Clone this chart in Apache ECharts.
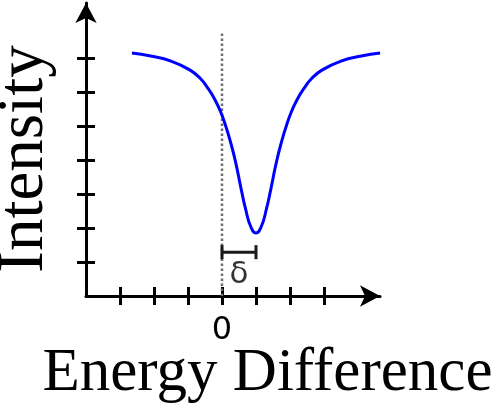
<!DOCTYPE html>
<html>
<head>
<meta charset="utf-8">
<style>
  html, body { margin: 0; padding: 0; background: #fff; }
  #chart { width: 496px; height: 405px; }
</style>
<script src="https://cdn.jsdelivr.net/npm/echarts@6/dist/echarts.min.js"></script>
</head>
<body>
<div id="chart"></div>
<script>
// Absorption dip: energy offset vs. transmitted intensity
const energy = [-2.65, -2.1, -1.5, -0.95, -0.65, -0.4, -0.2, -0.05, 0.1, 0.25, 0.4, 0.55, 0.7, 0.85,
                1.0,
                1.15, 1.3, 1.45, 1.6, 1.75, 1.9, 2.05, 2.2, 2.4, 2.65, 2.95, 3.5, 4.1, 4.65];
const intensity = [7.15, 7.06, 6.91, 6.65, 6.41, 6.09, 5.76, 5.44, 5.03, 4.53, 3.94, 3.21, 2.53, 2.03,
                   1.85,
                   2.03, 2.53, 3.21, 3.94, 4.53, 5.03, 5.44, 5.76, 6.09, 6.41, 6.65, 6.91, 7.06, 7.15];

// Tick positions and labels
const xTicks = [-3, -2, -1, 0, 1, 2, 3];
const yTicks = [1, 2, 3, 4, 5, 6, 7];
const xTickLabels = [0];

// Reference line at zero energy, and the shift δ of the dip centre
const zeroLine = [[0, 0], [0, 7.76]];
const shiftDelta = 1.0;
const shiftLevel = 1.29;

const axisColor = '#000';
const serif = '"Liberation Serif", "Times New Roman", serif';

const xRange = { min: -4, max: 4.647 };
const yRange = { min: 0, max: 8.618 };

const chart = echarts.init(document.getElementById('chart'), null, { renderer: 'canvas' });

chart.setOption({
  backgroundColor: '#fff',
  animation: false,
  grid: { left: 86, right: 116, top: 3, bottom: 109, containLabel: false, outerBoundsMode: 'none' },
  xAxis: [
    {
      type: 'value', min: xRange.min, max: xRange.max, position: 'bottom',
      name: 'Energy Difference', nameLocation: 'middle', nameGap: 47, nameMoveOverlap: false,
      nameTextStyle: { fontFamily: serif, fontSize: 61, color: '#000', padding: [0, 0, 0, 69] },
      axisLine: { show: true, onZero: false, symbol: ['none', 'arrow'], symbolSize: [16, 20],
                  lineStyle: { color: axisColor, width: 3 } },
      axisTick: { show: true, inside: false, length: 9, customValues: xTicks,
                  lineStyle: { color: axisColor, width: 3 } },
      axisLabel: { show: true, customValues: xTickLabels, margin: 19,
                   fontFamily: '"DejaVu Sans", sans-serif', fontSize: 32, color: '#000' },
      splitLine: { show: false }
    },
    {
      type: 'value', min: xRange.min, max: xRange.max, position: 'bottom',
      axisLine: { show: false, onZero: false },
      axisTick: { show: true, inside: true, length: 9, customValues: xTicks,
                  lineStyle: { color: axisColor, width: 3 } },
      axisLabel: { show: false },
      splitLine: { show: false }
    }
  ],
  yAxis: [
    {
      type: 'value', min: yRange.min, max: yRange.max, position: 'left',
      name: 'Intensity', nameLocation: 'middle', nameGap: 29, nameRotate: 90, nameMoveOverlap: false,
      nameTextStyle: { fontFamily: serif, fontSize: 65, color: '#000', padding: [0, 19, 0, 0] },
      axisLine: { show: true, onZero: false, symbol: ['none', 'arrow'], symbolSize: [16, 20],
                  lineStyle: { color: axisColor, width: 3 } },
      axisTick: { show: true, inside: false, length: 9, customValues: yTicks,
                  lineStyle: { color: axisColor, width: 3 } },
      axisLabel: { show: false },
      splitLine: { show: false }
    },
    {
      type: 'value', min: yRange.min, max: yRange.max, position: 'left',
      axisLine: { show: false, onZero: false },
      axisTick: { show: true, inside: true, length: 9, customValues: yTicks,
                  lineStyle: { color: axisColor, width: 3 } },
      axisLabel: { show: false },
      splitLine: { show: false }
    }
  ],
  series: [
    {
      name: 'zero',
      type: 'line',
      data: zeroLine,
      symbol: 'none',
      silent: true,
      lineStyle: { color: '#6e6e6e', width: 2.5, type: [2.5, 2.5] },
      z: 1
    },
    {
      name: 'spectrum',
      type: 'line',
      data: energy.map((e, i) => [e, intensity[i]]),
      smooth: 0.5,
      symbol: 'none',
      lineStyle: { color: '#0000ff', width: 3 },
      z: 3
    },
    {
      name: 'shift',
      type: 'line',
      data: [[0, shiftLevel], [shiftDelta, shiftLevel]],
      symbol: 'rect',
      symbolSize: [3, 14],
      itemStyle: { color: '#1a1a1a' },
      lineStyle: { color: '#1a1a1a', width: 3 },
      z: 2
    },
    {
      name: 'shiftLabel',
      type: 'scatter',
      data: [[shiftDelta / 2, shiftLevel]],
      symbolSize: 0,
      label: { show: true, position: 'bottom', distance: 7, formatter: 'δ',
               fontFamily: '"DejaVu Sans", sans-serif', fontSize: 31, color: '#000' },
      z: 2
    }
  ]
});
</script>
</body>
</html>
